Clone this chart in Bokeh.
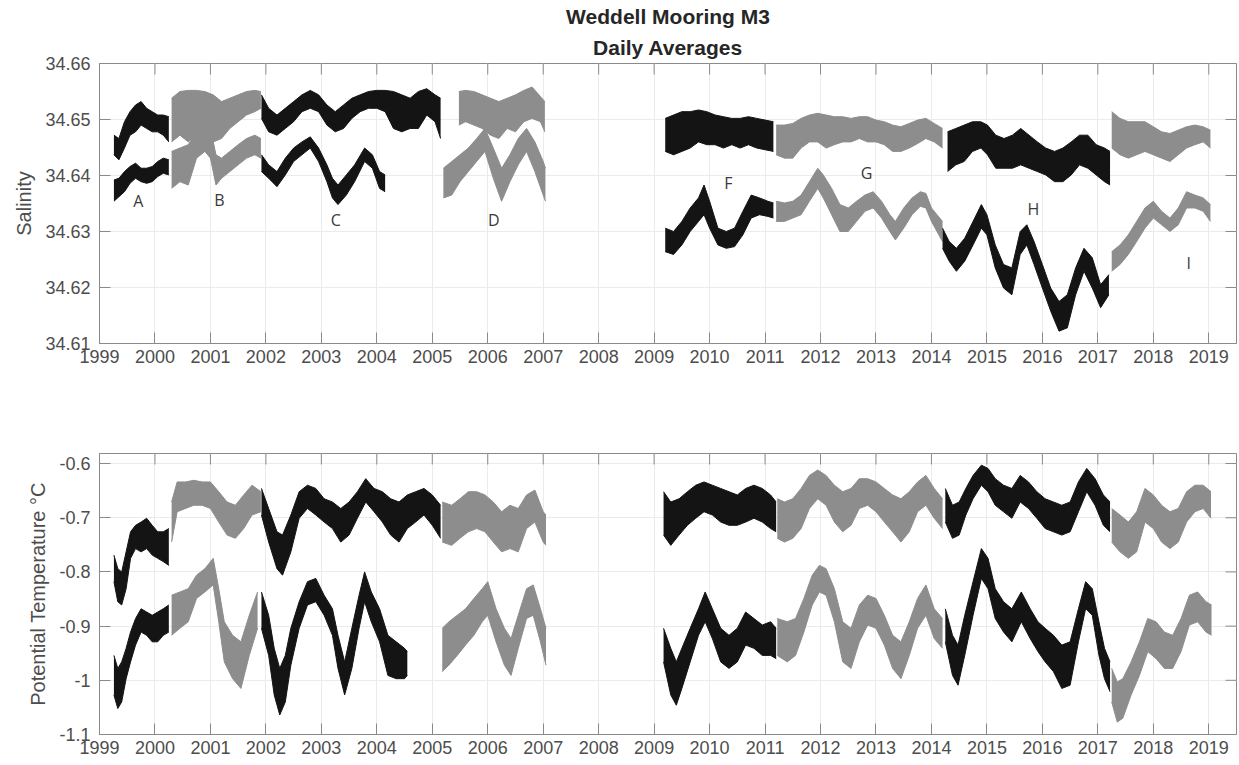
import math
from bokeh.plotting import figure
from bokeh.layouts import column
from bokeh.models import FixedTicker, Title, Range1d
from bokeh.embed import file_html
from bokeh.resources import INLINE
from bokeh.core.properties import value

# ---------------- data ----------------
# each row: (year, low envelope, high envelope) of the daily-average band
SAL_A_UP = [(1999.26, 34.6437, 34.6472), (1999.35, 34.6428, 34.6466), (1999.45, 34.6449, 34.6496),
            (1999.55, 34.6472, 34.6514), (1999.65, 34.6478, 34.6526), (1999.75, 34.6490, 34.6532),
            (1999.85, 34.6484, 34.6520), (1999.95, 34.6478, 34.6514), (2000.05, 34.6478, 34.6508),
            (2000.15, 34.6472, 34.6508), (2000.25, 34.6460, 34.6505)]
SAL_A_LO = [(1999.26, 34.6354, 34.6392), (1999.35, 34.6362, 34.6395), (1999.45, 34.6371, 34.6407),
            (1999.55, 34.6386, 34.6416), (1999.65, 34.6395, 34.6422), (1999.75, 34.6389, 34.6413),
            (1999.85, 34.6386, 34.6413), (1999.95, 34.6389, 34.6416), (2000.05, 34.6398, 34.6425),
            (2000.15, 34.6404, 34.6431), (2000.25, 34.6401, 34.6428)]
SAL_B_UP = [(2000.30, 34.6460, 34.6538), (2000.45, 34.6472, 34.6550), (2000.60, 34.6460, 34.6552),
            (2000.75, 34.6472, 34.6552), (2000.90, 34.6460, 34.6550), (2001.05, 34.6460, 34.6544),
            (2001.20, 34.6466, 34.6532), (2001.35, 34.6484, 34.6538), (2001.50, 34.6496, 34.6544),
            (2001.65, 34.6508, 34.6550), (2001.80, 34.6514, 34.6552), (2001.91, 34.6520, 34.6550)]
SAL_B_LO = [(2000.30, 34.6377, 34.6443), (2000.45, 34.6389, 34.6449), (2000.60, 34.6383, 34.6455),
            (2000.75, 34.6431, 34.6478), (2000.90, 34.6443, 34.6490), (2001.00, 34.6431, 34.6484),
            (2001.10, 34.6383, 34.6437), (2001.20, 34.6395, 34.6431), (2001.35, 34.6407, 34.6443),
            (2001.50, 34.6419, 34.6455), (2001.65, 34.6431, 34.6466), (2001.80, 34.6437, 34.6472),
            (2001.91, 34.6431, 34.6466)]
SAL_C_UP = [(2001.92, 34.6502, 34.6544), (2002.05, 34.6478, 34.6520), (2002.20, 34.6472, 34.6508),
            (2002.35, 34.6484, 34.6520), (2002.50, 34.6496, 34.6532), (2002.65, 34.6514, 34.6544),
            (2002.80, 34.6520, 34.6552), (2002.95, 34.6514, 34.6544), (2003.10, 34.6490, 34.6526),
            (2003.25, 34.6478, 34.6514), (2003.40, 34.6484, 34.6526), (2003.55, 34.6502, 34.6538),
            (2003.70, 34.6514, 34.6544), (2003.85, 34.6520, 34.6550), (2004.00, 34.6520, 34.6552),
            (2004.15, 34.6514, 34.6552), (2004.30, 34.6484, 34.6550), (2004.45, 34.6478, 34.6544),
            (2004.60, 34.6484, 34.6538), (2004.75, 34.6484, 34.6550), (2004.90, 34.6508, 34.6555),
            (2005.05, 34.6496, 34.6544), (2005.15, 34.6466, 34.6538)]
SAL_C_LO = [(2001.92, 34.6407, 34.6437), (2002.05, 34.6395, 34.6419), (2002.20, 34.6380, 34.6407),
            (2002.35, 34.6401, 34.6431), (2002.50, 34.6425, 34.6449), (2002.65, 34.6437, 34.6460),
            (2002.80, 34.6449, 34.6469), (2002.95, 34.6425, 34.6449), (2003.10, 34.6389, 34.6419),
            (2003.20, 34.6360, 34.6395), (2003.30, 34.6348, 34.6383), (2003.45, 34.6365, 34.6401),
            (2003.60, 34.6389, 34.6419), (2003.78, 34.6425, 34.6449), (2003.92, 34.6413, 34.6437),
            (2004.05, 34.6377, 34.6407), (2004.15, 34.6371, 34.6401)]
SAL_D_UP = [(2005.48, 34.6490, 34.6550), (2005.60, 34.6496, 34.6552), (2005.75, 34.6490, 34.6550),
            (2005.90, 34.6484, 34.6544), (2006.05, 34.6472, 34.6538), (2006.20, 34.6466, 34.6532),
            (2006.35, 34.6484, 34.6538), (2006.50, 34.6478, 34.6544), (2006.65, 34.6496, 34.6552),
            (2006.80, 34.6502, 34.6558), (2006.95, 34.6496, 34.6541), (2007.03, 34.6478, 34.6532)]
SAL_D_LO = [(2005.20, 34.6360, 34.6413), (2005.35, 34.6365, 34.6425), (2005.50, 34.6389, 34.6437),
            (2005.65, 34.6407, 34.6449), (2005.80, 34.6425, 34.6466), (2005.95, 34.6443, 34.6484),
            (2006.10, 34.6395, 34.6449), (2006.25, 34.6354, 34.6413), (2006.40, 34.6389, 34.6437),
            (2006.55, 34.6419, 34.6466), (2006.70, 34.6443, 34.6484), (2006.85, 34.6407, 34.6460),
            (2007.00, 34.6365, 34.6425), (2007.04, 34.6354, 34.6413)]
SAL_F_UP = [(2009.20, 34.6443, 34.6502), (2009.35, 34.6437, 34.6508), (2009.50, 34.6443, 34.6514),
            (2009.65, 34.6449, 34.6514), (2009.80, 34.6460, 34.6517), (2009.95, 34.6455, 34.6514),
            (2010.10, 34.6455, 34.6508), (2010.25, 34.6449, 34.6505), (2010.40, 34.6455, 34.6502),
            (2010.55, 34.6449, 34.6502), (2010.70, 34.6455, 34.6505), (2010.85, 34.6449, 34.6502),
            (2011.00, 34.6446, 34.6499), (2011.15, 34.6443, 34.6496)]
SAL_F_LO = [(2009.20, 34.6264, 34.6306), (2009.35, 34.6259, 34.6300), (2009.50, 34.6276, 34.6318),
            (2009.65, 34.6300, 34.6342), (2009.80, 34.6318, 34.6360), (2009.90, 34.6330, 34.6383),
            (2010.00, 34.6306, 34.6354), (2010.15, 34.6276, 34.6306), (2010.30, 34.6270, 34.6300),
            (2010.45, 34.6273, 34.6306), (2010.60, 34.6294, 34.6336), (2010.75, 34.6324, 34.6365),
            (2010.90, 34.6330, 34.6360), (2011.05, 34.6327, 34.6354), (2011.15, 34.6324, 34.6351)]
SAL_G_UP = [(2011.20, 34.6437, 34.6490), (2011.35, 34.6431, 34.6490), (2011.50, 34.6431, 34.6493),
            (2011.65, 34.6449, 34.6502), (2011.80, 34.6460, 34.6508), (2011.95, 34.6460, 34.6511),
            (2012.10, 34.6449, 34.6508), (2012.25, 34.6455, 34.6505), (2012.40, 34.6460, 34.6505),
            (2012.55, 34.6460, 34.6502), (2012.70, 34.6466, 34.6505), (2012.85, 34.6460, 34.6505),
            (2013.00, 34.6460, 34.6499), (2013.15, 34.6455, 34.6496), (2013.30, 34.6443, 34.6490),
            (2013.45, 34.6443, 34.6487), (2013.60, 34.6449, 34.6493), (2013.75, 34.6457, 34.6499),
            (2013.90, 34.6466, 34.6502), (2014.05, 34.6460, 34.6493), (2014.20, 34.6449, 34.6484)]
SAL_G_LO = [(2011.20, 34.6318, 34.6354), (2011.35, 34.6318, 34.6351), (2011.50, 34.6324, 34.6354),
            (2011.65, 34.6330, 34.6365), (2011.80, 34.6354, 34.6389), (2011.95, 34.6377, 34.6413),
            (2012.05, 34.6360, 34.6401), (2012.20, 34.6330, 34.6377), (2012.35, 34.6300, 34.6348),
            (2012.50, 34.6300, 34.6342), (2012.65, 34.6318, 34.6354), (2012.80, 34.6336, 34.6365),
            (2012.95, 34.6342, 34.6371), (2013.10, 34.6324, 34.6354), (2013.25, 34.6300, 34.6330),
            (2013.35, 34.6285, 34.6318), (2013.50, 34.6306, 34.6342), (2013.65, 34.6330, 34.6360),
            (2013.80, 34.6345, 34.6371), (2013.90, 34.6342, 34.6368), (2014.00, 34.6318, 34.6342),
            (2014.10, 34.6300, 34.6330), (2014.20, 34.6282, 34.6318)]
SAL_H_UP = [(2014.29, 34.6407, 34.6478), (2014.44, 34.6419, 34.6484), (2014.59, 34.6425, 34.6490),
            (2014.74, 34.6443, 34.6496), (2014.89, 34.6449, 34.6496), (2015.01, 34.6437, 34.6490),
            (2015.16, 34.6413, 34.6472), (2015.31, 34.6413, 34.6466), (2015.46, 34.6413, 34.6472),
            (2015.61, 34.6419, 34.6484), (2015.76, 34.6413, 34.6472), (2015.91, 34.6407, 34.6460),
            (2016.06, 34.6401, 34.6449), (2016.22, 34.6389, 34.6443), (2016.37, 34.6389, 34.6449),
            (2016.52, 34.6401, 34.6460), (2016.67, 34.6419, 34.6472), (2016.82, 34.6413, 34.6472),
            (2016.97, 34.6401, 34.6455), (2017.12, 34.6389, 34.6449), (2017.22, 34.6383, 34.6443)]
SAL_H_LO = [(2014.20, 34.6270, 34.6306), (2014.32, 34.6247, 34.6282), (2014.45, 34.6229, 34.6270),
            (2014.60, 34.6247, 34.6288), (2014.75, 34.6276, 34.6318), (2014.90, 34.6306, 34.6348),
            (2015.00, 34.6294, 34.6330), (2015.15, 34.6235, 34.6276), (2015.30, 34.6199, 34.6241),
            (2015.45, 34.6187, 34.6235), (2015.60, 34.6259, 34.6300), (2015.72, 34.6276, 34.6312),
            (2015.85, 34.6241, 34.6282), (2016.00, 34.6199, 34.6241), (2016.15, 34.6158, 34.6199),
            (2016.30, 34.6122, 34.6175), (2016.45, 34.6128, 34.6187), (2016.60, 34.6187, 34.6235),
            (2016.75, 34.6229, 34.6270), (2016.90, 34.6199, 34.6253), (2017.05, 34.6164, 34.6205),
            (2017.20, 34.6187, 34.6223)]
SAL_I_UP = [(2017.25, 34.6449, 34.6514), (2017.40, 34.6437, 34.6502), (2017.55, 34.6431, 34.6496),
            (2017.70, 34.6437, 34.6496), (2017.85, 34.6443, 34.6496), (2018.00, 34.6437, 34.6487),
            (2018.15, 34.6431, 34.6478), (2018.30, 34.6425, 34.6475), (2018.45, 34.6437, 34.6481),
            (2018.60, 34.6449, 34.6487), (2018.75, 34.6455, 34.6490), (2018.90, 34.6460, 34.6487),
            (2019.03, 34.6449, 34.6481)]
SAL_I_LO = [(2017.25, 34.6229, 34.6264), (2017.40, 34.6241, 34.6276), (2017.55, 34.6259, 34.6294),
            (2017.70, 34.6282, 34.6318), (2017.85, 34.6306, 34.6342), (2018.00, 34.6324, 34.6354),
            (2018.15, 34.6312, 34.6336), (2018.30, 34.6300, 34.6324), (2018.45, 34.6312, 34.6342),
            (2018.60, 34.6342, 34.6371), (2018.75, 34.6342, 34.6365), (2018.90, 34.6336, 34.6360),
            (2019.03, 34.6318, 34.6348)]

TMP_A_UP = [(1999.26, -0.818, -0.769), (1999.33, -0.855, -0.794), (1999.40, -0.861, -0.800),
            (1999.48, -0.831, -0.763), (1999.56, -0.775, -0.726), (1999.65, -0.757, -0.714),
            (1999.75, -0.763, -0.708), (1999.85, -0.757, -0.701), (1999.95, -0.769, -0.714),
            (2000.05, -0.775, -0.726), (2000.15, -0.781, -0.726), (2000.25, -0.788, -0.720)]
TMP_A_LO = [(1999.26, -1.027, -0.954), (1999.33, -1.052, -0.978), (1999.40, -1.040, -0.966),
            (1999.48, -0.997, -0.941), (1999.56, -0.966, -0.911), (1999.65, -0.935, -0.886),
            (1999.75, -0.911, -0.868), (1999.85, -0.917, -0.874), (1999.95, -0.929, -0.880),
            (2000.05, -0.929, -0.874), (2000.15, -0.917, -0.868), (2000.25, -0.911, -0.861)]
TMP_B_UP = [(2000.30, -0.745, -0.671), (2000.40, -0.689, -0.634), (2000.55, -0.683, -0.634),
            (2000.70, -0.677, -0.631), (2000.85, -0.677, -0.634), (2001.00, -0.683, -0.634),
            (2001.15, -0.708, -0.652), (2001.30, -0.732, -0.671), (2001.45, -0.738, -0.677),
            (2001.60, -0.720, -0.658), (2001.75, -0.695, -0.640), (2001.91, -0.689, -0.652)]
TMP_B_LO = [(2000.30, -0.917, -0.843), (2000.45, -0.904, -0.837), (2000.60, -0.892, -0.831),
            (2000.75, -0.849, -0.806), (2000.90, -0.837, -0.794), (2001.05, -0.824, -0.775),
            (2001.15, -0.892, -0.831), (2001.25, -0.966, -0.892), (2001.40, -0.997, -0.917),
            (2001.55, -1.015, -0.929), (2001.70, -0.954, -0.880), (2001.85, -0.904, -0.837)]
TMP_C_UP = [(2001.92, -0.695, -0.646), (2002.05, -0.745, -0.683), (2002.20, -0.794, -0.726),
            (2002.30, -0.806, -0.732), (2002.45, -0.763, -0.695), (2002.60, -0.701, -0.652),
            (2002.75, -0.683, -0.640), (2002.90, -0.695, -0.646), (2003.05, -0.708, -0.665),
            (2003.20, -0.720, -0.671), (2003.35, -0.745, -0.683), (2003.50, -0.732, -0.671),
            (2003.65, -0.701, -0.652), (2003.80, -0.671, -0.628), (2003.95, -0.689, -0.646),
            (2004.10, -0.708, -0.652), (2004.25, -0.732, -0.665), (2004.40, -0.745, -0.671),
            (2004.55, -0.720, -0.658), (2004.70, -0.708, -0.652), (2004.85, -0.695, -0.646),
            (2005.00, -0.714, -0.658), (2005.15, -0.738, -0.677)]
TMP_C_LO = [(2001.92, -0.904, -0.837), (2002.05, -0.954, -0.880), (2002.15, -1.027, -0.941),
            (2002.25, -1.064, -0.978), (2002.35, -1.040, -0.954), (2002.45, -0.972, -0.904),
            (2002.60, -0.904, -0.855), (2002.75, -0.861, -0.818), (2002.90, -0.855, -0.812),
            (2003.05, -0.880, -0.843), (2003.20, -0.917, -0.868), (2003.30, -0.978, -0.917),
            (2003.42, -1.027, -0.966), (2003.55, -0.978, -0.904), (2003.68, -0.904, -0.843),
            (2003.78, -0.855, -0.800), (2003.90, -0.892, -0.837), (2004.05, -0.929, -0.868),
            (2004.20, -0.991, -0.917), (2004.35, -0.997, -0.929), (2004.50, -0.997, -0.941),
            (2004.55, -0.991, -0.947)]
TMP_D_UP = [(2005.18, -0.745, -0.671), (2005.35, -0.751, -0.677), (2005.50, -0.738, -0.665),
            (2005.65, -0.726, -0.652), (2005.80, -0.720, -0.652), (2005.95, -0.726, -0.658),
            (2006.10, -0.745, -0.671), (2006.25, -0.763, -0.689), (2006.40, -0.757, -0.677),
            (2006.55, -0.763, -0.683), (2006.70, -0.720, -0.658), (2006.85, -0.708, -0.649),
            (2007.00, -0.745, -0.689), (2007.05, -0.751, -0.695)]
TMP_D_LO = [(2005.18, -0.984, -0.904), (2005.30, -0.972, -0.892), (2005.45, -0.954, -0.880),
            (2005.60, -0.935, -0.868), (2005.75, -0.917, -0.849), (2005.90, -0.892, -0.831),
            (2006.00, -0.880, -0.818), (2006.15, -0.929, -0.868), (2006.30, -0.972, -0.904),
            (2006.42, -0.991, -0.923), (2006.55, -0.941, -0.880), (2006.70, -0.886, -0.831),
            (2006.82, -0.880, -0.824), (2006.95, -0.929, -0.868), (2007.05, -0.972, -0.904)]
TMP_F_UP = [(2009.17, -0.732, -0.652), (2009.30, -0.751, -0.671), (2009.45, -0.732, -0.665),
            (2009.60, -0.714, -0.652), (2009.75, -0.701, -0.640), (2009.90, -0.689, -0.634),
            (2010.05, -0.695, -0.640), (2010.20, -0.708, -0.646), (2010.35, -0.714, -0.652),
            (2010.50, -0.714, -0.658), (2010.65, -0.708, -0.646), (2010.80, -0.701, -0.640),
            (2010.95, -0.708, -0.646), (2011.10, -0.720, -0.658), (2011.20, -0.726, -0.671)]
TMP_F_LO = [(2009.17, -0.966, -0.904), (2009.30, -1.027, -0.941), (2009.40, -1.046, -0.966),
            (2009.50, -1.015, -0.941), (2009.65, -0.966, -0.904), (2009.80, -0.917, -0.868),
            (2009.92, -0.892, -0.837), (2010.05, -0.923, -0.868), (2010.20, -0.966, -0.904),
            (2010.35, -0.978, -0.917), (2010.50, -0.966, -0.904), (2010.65, -0.935, -0.874),
            (2010.80, -0.941, -0.886), (2010.95, -0.954, -0.898), (2011.10, -0.954, -0.892),
            (2011.20, -0.960, -0.904)]
TMP_G_UP = [(2011.22, -0.738, -0.665), (2011.35, -0.745, -0.671), (2011.50, -0.738, -0.665),
            (2011.65, -0.720, -0.646), (2011.80, -0.683, -0.622), (2011.95, -0.665, -0.612),
            (2012.10, -0.677, -0.622), (2012.25, -0.708, -0.640), (2012.40, -0.726, -0.652),
            (2012.55, -0.714, -0.646), (2012.70, -0.683, -0.628), (2012.85, -0.677, -0.628),
            (2013.00, -0.689, -0.634), (2013.15, -0.708, -0.646), (2013.30, -0.726, -0.658),
            (2013.45, -0.745, -0.665), (2013.60, -0.726, -0.652), (2013.75, -0.689, -0.634),
            (2013.90, -0.677, -0.622), (2014.05, -0.701, -0.646), (2014.20, -0.720, -0.665)]
TMP_G_LO = [(2011.22, -0.954, -0.886), (2011.40, -0.966, -0.892), (2011.55, -0.954, -0.886),
            (2011.70, -0.911, -0.849), (2011.85, -0.861, -0.806), (2011.98, -0.837, -0.788),
            (2012.10, -0.843, -0.794), (2012.25, -0.892, -0.831), (2012.40, -0.966, -0.892),
            (2012.55, -0.978, -0.904), (2012.70, -0.929, -0.861), (2012.85, -0.898, -0.843),
            (2013.00, -0.904, -0.849), (2013.15, -0.935, -0.880), (2013.30, -0.978, -0.917),
            (2013.45, -0.997, -0.929), (2013.60, -0.954, -0.892), (2013.75, -0.904, -0.849),
            (2013.90, -0.880, -0.824), (2014.05, -0.923, -0.868), (2014.20, -0.941, -0.886)]
TMP_H_UP = [(2014.25, -0.708, -0.646), (2014.38, -0.738, -0.677), (2014.50, -0.732, -0.671),
            (2014.62, -0.695, -0.646), (2014.75, -0.665, -0.622), (2014.90, -0.640, -0.603),
            (2015.02, -0.652, -0.609), (2015.15, -0.677, -0.628), (2015.30, -0.689, -0.640),
            (2015.45, -0.701, -0.646), (2015.60, -0.671, -0.622), (2015.75, -0.683, -0.634),
            (2015.90, -0.701, -0.652), (2016.05, -0.720, -0.665), (2016.20, -0.726, -0.671),
            (2016.35, -0.732, -0.677), (2016.50, -0.726, -0.671), (2016.65, -0.689, -0.634),
            (2016.80, -0.652, -0.609), (2016.95, -0.677, -0.628), (2017.10, -0.714, -0.658),
            (2017.22, -0.726, -0.671)]
TMP_H_LO = [(2014.25, -0.929, -0.868), (2014.38, -0.991, -0.917), (2014.48, -1.009, -0.935),
            (2014.60, -0.954, -0.880), (2014.75, -0.880, -0.818), (2014.90, -0.812, -0.757),
            (2015.02, -0.831, -0.775), (2015.15, -0.886, -0.831), (2015.30, -0.911, -0.855),
            (2015.45, -0.929, -0.868), (2015.62, -0.892, -0.837), (2015.78, -0.923, -0.868),
            (2015.92, -0.947, -0.892), (2016.05, -0.966, -0.904), (2016.20, -0.984, -0.917),
            (2016.35, -1.015, -0.935), (2016.50, -1.009, -0.929), (2016.65, -0.929, -0.868),
            (2016.78, -0.868, -0.818), (2016.90, -0.880, -0.831), (2017.02, -0.954, -0.892),
            (2017.12, -0.997, -0.941), (2017.22, -1.021, -0.966)]
TMP_I_UP = [(2017.25, -0.745, -0.683), (2017.40, -0.763, -0.695), (2017.55, -0.775, -0.708),
            (2017.70, -0.763, -0.689), (2017.85, -0.708, -0.646), (2018.00, -0.720, -0.658),
            (2018.15, -0.745, -0.677), (2018.30, -0.757, -0.689), (2018.45, -0.745, -0.683),
            (2018.60, -0.708, -0.652), (2018.75, -0.689, -0.640), (2018.90, -0.683, -0.640),
            (2019.04, -0.701, -0.652)]
TMP_I_LO = [(2017.25, -1.040, -0.978), (2017.35, -1.077, -1.003), (2017.45, -1.070, -0.997),
            (2017.60, -1.027, -0.966), (2017.75, -0.991, -0.929), (2017.90, -0.947, -0.886),
            (2018.05, -0.960, -0.892), (2018.20, -0.978, -0.911), (2018.35, -0.978, -0.917),
            (2018.50, -0.947, -0.886), (2018.65, -0.898, -0.843), (2018.80, -0.892, -0.837),
            (2018.95, -0.911, -0.855), (2019.05, -0.917, -0.861)]

YEAR_TICKS = list(range(1999, 2020))
SAL_TICKS = [34.61, 34.62, 34.63, 34.64, 34.65, 34.66]
TEMP_TICKS = [-1.1, -1.0, -0.9, -0.8, -0.7, -0.6]
TEMP_TICK_TEXT = ["-1.1", "-1", "-0.9", "-0.8", "-0.7", "-0.6"]

X_RANGE = (1999.0, 2019.5)
SAL_RANGE = (34.61, 34.66)
TEMP_RANGE = (-1.1, -0.5815)

TITLE_LINES = ["Weddell Mooring M3", "Daily Averages"]
LABEL_TEXT = ["A", "B", "C", "D", "F", "G", "H", "I"]
LABEL_X = [1999.70, 2001.16, 2003.26, 2006.11, 2010.34, 2012.83, 2015.84, 2018.64]
LABEL_Y = [34.6354, 34.6357, 34.6320, 34.6320, 34.6386, 34.6405, 34.6341, 34.6243]

BLACK = "#141414"
GRAY = "#8d8d8d"
SAL_SERIES = [(SAL_A_UP, BLACK), (SAL_A_LO, BLACK), (SAL_B_UP, GRAY), (SAL_B_LO, GRAY),
              (SAL_C_UP, BLACK), (SAL_C_LO, BLACK), (SAL_D_UP, GRAY), (SAL_D_LO, GRAY),
              (SAL_F_UP, BLACK), (SAL_F_LO, BLACK), (SAL_G_UP, GRAY), (SAL_G_LO, GRAY),
              (SAL_H_UP, BLACK), (SAL_H_LO, BLACK), (SAL_I_UP, GRAY), (SAL_I_LO, GRAY)]
TMP_SERIES = [(TMP_A_UP, BLACK), (TMP_A_LO, BLACK), (TMP_B_UP, GRAY), (TMP_B_LO, GRAY),
              (TMP_C_UP, BLACK), (TMP_C_LO, BLACK), (TMP_D_UP, GRAY), (TMP_D_LO, GRAY),
              (TMP_F_UP, BLACK), (TMP_F_LO, BLACK), (TMP_G_UP, GRAY), (TMP_G_LO, GRAY),
              (TMP_H_UP, BLACK), (TMP_H_LO, BLACK), (TMP_I_UP, GRAY), (TMP_I_LO, GRAY)]

FONT = "Liberation Sans"
TICK_COLOR = "#4d4d4d"
AXIS_COLOR = "#8a8a8a"
TICK_LEN = 11


def style_axes(p, yticks, yrange, ylabel, overrides=None):
    p.xaxis.ticker = FixedTicker(ticks=YEAR_TICKS)
    p.yaxis.ticker = FixedTicker(ticks=yticks)
    if overrides:
        p.yaxis.major_label_overrides = overrides
    for ax in p.xaxis + p.yaxis:
        ax.major_label_text_font = FONT
        ax.major_label_text_font_size = "18px"
        ax.major_label_text_color = TICK_COLOR
        ax.axis_line_color = AXIS_COLOR
        ax.major_tick_line_color = AXIS_COLOR
        ax.major_tick_in = TICK_LEN
        ax.major_tick_out = 0
        ax.minor_tick_line_color = None
    p.xaxis.major_label_standoff = 6
    p.yaxis.major_label_standoff = 9
    p.yaxis.axis_label = ylabel
    p.yaxis.axis_label_text_font = FONT
    p.yaxis.axis_label_text_font_size = "20px"
    p.yaxis.axis_label_text_font_style = "normal"
    p.yaxis.axis_label_text_color = "#4d4d4d"
    p.yaxis.axis_label_standoff = 7
    # box ticks on the right and top edges (drawn inward, like the left/bottom ones)
    p.ray(x=[X_RANGE[1]] * len(yticks), y=yticks, length=TICK_LEN, length_units="screen",
          angle=math.pi, line_color=AXIS_COLOR, line_width=1)
    p.ray(x=YEAR_TICKS, y=[yrange[1]] * len(YEAR_TICKS), length=TICK_LEN, length_units="screen",
          angle=-math.pi / 2, line_color=AXIS_COLOR, line_width=1)
    p.xgrid.grid_line_color = "#ebebeb"
    p.ygrid.grid_line_color = "#ebebeb"
    p.xgrid.ticker = FixedTicker(ticks=YEAR_TICKS)
    p.ygrid.ticker = FixedTicker(ticks=yticks)
    p.outline_line_color = AXIS_COLOR
    p.outline_line_width = 1
    p.background_fill_color = "white"
    p.border_fill_color = "white"


def draw_band(p, rows, color):
    t = [r[0] for r in rows]
    lo = [r[1] for r in rows]
    hi = [r[2] for r in rows]
    p.varea(x=t, y1=lo, y2=hi, fill_color=color)
    p.line(t, lo, line_color=color, line_width=1)
    p.line(t, hi, line_color=color, line_width=1)


# ---------------- top panel: salinity ----------------
p1 = figure(frame_width=1137, frame_height=280, output_backend="svg", toolbar_location=None,
            x_range=Range1d(*X_RANGE), y_range=Range1d(*SAL_RANGE),
            min_border_left=99, min_border_right=3, min_border_top=0, min_border_bottom=40)
p1.title = None
p1.add_layout(Title(text=TITLE_LINES[1], align="center", text_font=FONT, text_font_size="21px",
                    text_font_style="bold", text_color="#262626", standoff=9, offset=-5), "above")
p1.add_layout(Title(text=TITLE_LINES[0], align="center", text_font=FONT, text_font_size="21px",
                    text_font_style="bold", text_color="#262626", standoff=4, offset=-5), "above")
style_axes(p1, SAL_TICKS, SAL_RANGE, "Salinity")
for rows, color in SAL_SERIES:
    draw_band(p1, rows, color)
p1.text(x=LABEL_X, y=LABEL_Y, text=LABEL_TEXT, text_font=value("Open Sans"),
        text_font_size="16px", text_color="#3a3a3a", text_align="center", text_baseline="middle")

# ---------------- bottom panel: potential temperature ----------------
p2 = figure(frame_width=1137, frame_height=281, output_backend="svg", toolbar_location=None,
            x_range=Range1d(*X_RANGE), y_range=Range1d(*TEMP_RANGE),
            min_border_left=99, min_border_right=3, min_border_top=70, min_border_bottom=0)
p2.title = None
style_axes(p2, TEMP_TICKS, TEMP_RANGE, "Potential Temperature \u00b0C",
           overrides={(int(v) if v == int(v) else v): s for v, s in zip(TEMP_TICKS, TEMP_TICK_TEXT)})
for rows, color in TMP_SERIES:
    draw_band(p2, rows, color)

layout = column(p1, p2, spacing=0)
open("out.html", "w").write(file_html(layout, INLINE))
